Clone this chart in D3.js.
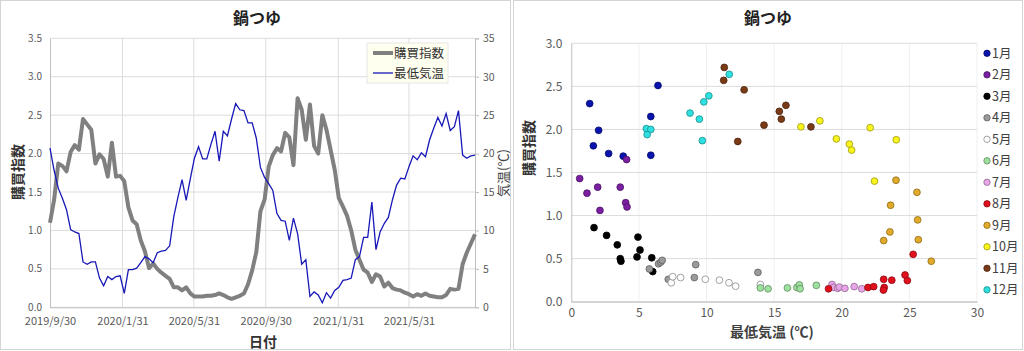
<!DOCTYPE html>
<html>
<head>
<meta charset="utf-8">
<script src="https://cdn.jsdelivr.net/npm/d3@7"></script>
<style>
  body { margin: 0; background: #fff; }
  svg text { font-family: "Noto Sans CJK JP", "Noto Sans", sans-serif; }
  .tick text { fill: #595959; font-size: 11px; }
  .axis .domain { stroke: #bfbfbf; }
  .axis .tick line { stroke: #bfbfbf; }
</style>
</head>
<body>
<svg id="chart"></svg>
<script>
// weekly series, first week starts 2019/9/30
const firstWeek = "2019-09-30";
const purchaseIndex = [
  1.10, 1.40, 1.87, 1.84, 1.77, 2.02, 2.11, 2.05, 2.45, 2.38,
  2.31, 1.87, 1.99, 1.93, 1.70, 2.14, 1.70, 1.71, 1.64, 1.30,
  1.13, 1.08, 0.87, 0.73, 0.51, 0.57, 0.50, 0.45, 0.41, 0.37,
  0.26, 0.26, 0.22, 0.26, 0.18, 0.14, 0.14, 0.14, 0.15, 0.15,
  0.16, 0.18, 0.16, 0.13, 0.11, 0.13, 0.15, 0.18, 0.30, 0.48,
  0.72, 1.25, 1.40, 1.83, 1.98, 2.07, 2.03, 2.27, 2.21, 1.85,
  2.72, 2.57, 2.18, 2.64, 2.10, 2.00, 2.50, 2.31, 2.05, 1.79,
  1.42, 1.31, 1.19, 1.00, 0.75, 0.62, 0.49, 0.45, 0.33, 0.43,
  0.40, 0.27, 0.32, 0.25, 0.23, 0.22, 0.19, 0.17, 0.14, 0.17,
  0.15, 0.18, 0.15, 0.14, 0.13, 0.13, 0.16, 0.24, 0.23, 0.24,
  0.56, 0.71, 0.83, 0.95
];
const minTemp = [
  20.7, 17.8, 15.5, 14.2, 12.7, 10.1, 9.8, 9.6, 5.9, 5.6,
  5.9, 5.9, 3.8, 2.8, 4.0, 3.6, 4.0, 4.1, 1.8, 4.9,
  4.9, 5.1, 5.8, 6.6, 6.3, 5.8, 7.1, 7.3, 7.4, 8.0,
  11.8, 14.3, 16.6, 13.9, 16.7, 19.4, 20.9, 19.3, 19.3, 21.2,
  22.9, 19.0, 22.9, 22.3, 24.5, 26.5, 25.7, 25.6, 24.0, 24.0,
  22.0, 18.2, 16.9, 16.1, 15.2, 12.2, 11.3, 11.2, 8.7, 11.6,
  9.6, 5.6, 6.2, 1.4, 2.0, 1.6, 0.6, 1.9, 1.2, 2.2,
  2.6, 3.5, 3.6, 3.8, 6.2, 6.6, 9.1, 9.1, 13.7, 7.5,
  9.8, 10.9, 11.7, 14.0, 15.9, 16.8, 16.7, 18.3, 19.7, 19.2,
  20.1, 19.6, 21.8, 23.3, 24.7, 23.6, 25.2, 23.0, 23.5, 25.6,
  19.8, 19.4, 19.7, 19.8
];
const dateTicks = ["2019-09-30", "2020-01-31", "2020-05-31", "2020-09-30", "2021-01-31", "2021-05-31"];
const indexTicks = [0, 0.5, 1, 1.5, 2, 2.5, 3, 3.5];
const tempTicks = [0, 5, 10, 15, 20, 25, 30, 35];

// scatter: [min temperature, purchase index] per month
const monthNames = ["1月", "2月", "3月", "4月", "5月", "6月", "7月", "8月", "9月", "10月", "11月", "12月"];
const jan = [[1.36, 2.30], [2.02, 1.99], [1.63, 1.81], [2.76, 1.72], [3.84, 1.69], [5.88, 1.70], [5.88, 2.15], [6.41, 2.51]];
const feb = [[4.09, 1.65], [0.62, 1.43], [1.16, 1.26], [1.95, 1.33], [3.62, 1.33], [4.02, 1.15], [4.12, 1.10], [2.12, 1.06]];
const mar = [[1.68, 0.86], [2.61, 0.77], [3.40, 0.66], [4.93, 0.75], [5.08, 0.60], [3.62, 0.50], [3.67, 0.47], [4.86, 0.52], [5.95, 0.51], [6.02, 0.35]];
const apr = [[5.77, 0.38], [6.45, 0.44], [6.62, 0.46], [6.72, 0.48], [9.20, 0.43], [9.10, 0.28], [7.17, 0.26], [13.80, 0.34]];
const may = [[7.39, 0.22], [7.50, 0.29], [8.08, 0.28], [9.91, 0.26], [10.95, 0.25], [11.66, 0.22], [12.15, 0.18], [13.98, 0.20]];
const jun = [[13.98, 0.16], [14.55, 0.15], [15.98, 0.16], [16.68, 0.165], [16.86, 0.195], [16.92, 0.15], [18.12, 0.19]];
const jul = [[19.28, 0.20], [19.39, 0.165], [19.70, 0.155], [19.82, 0.17], [20.23, 0.155], [20.92, 0.175], [21.48, 0.15]];
const aug = [[19.02, 0.15], [21.94, 0.165], [22.36, 0.175], [23.10, 0.26], [23.14, 0.165], [23.08, 0.135], [23.70, 0.25], [24.68, 0.31], [24.85, 0.245], [25.28, 0.55]];
const sep = [[24.01, 1.41], [25.56, 1.27], [23.61, 1.12], [25.61, 0.95], [23.56, 0.81], [23.10, 0.71], [25.66, 0.72], [26.62, 0.47]];
const oct = [[16.98, 2.03], [18.38, 2.10], [19.60, 1.89], [20.56, 1.83], [20.73, 1.76], [22.10, 2.02], [24.03, 1.88], [22.42, 1.40]];
const nov = [[11.31, 2.72], [11.27, 2.57], [12.78, 2.46], [15.38, 2.21], [15.53, 2.12], [15.87, 2.28], [14.25, 2.05], [17.72, 2.03], [12.31, 1.86]];
const dec = [[11.68, 2.64], [10.17, 2.39], [9.80, 2.32], [8.78, 2.19], [9.47, 2.12], [9.69, 1.87], [5.55, 2.01], [5.88, 2.00], [5.61, 1.94]];
const monthPoints = [jan, feb, mar, apr, may, jun, jul, aug, sep, oct, nov, dec];
const scatterXTicks = [0, 5, 10, 15, 20, 25, 30];
const scatterYTicks = [0, 0.5, 1, 1.5, 2, 2.5, 3];

const parseDate = d3.timeParse("%Y-%m-%d");

class TrendChart {
  constructor(_config) {
    this.config = {
      parentElement: _config.parentElement,
      left: 50, right: 475, top: 38.3, bottom: 307.3,
      indexColor: "#808080",
      tempColor: "#1818b8",
    };
    this.initVis();
  }

  initVis() {
    let vis = this;
    const c = vis.config;
    vis.g = d3.select(c.parentElement).append("g");

    const start = parseDate(firstWeek);
    vis.data = purchaseIndex.map((v, i) => ({
      date: d3.timeDay.offset(start, 7 * i),
      index: v,
      temp: minTemp[i],
    }));

    vis.xScale = d3.scaleTime()
      .domain(d3.extent(vis.data, (d) => d.date))
      .range([c.left, c.right]);
    vis.yIndex = d3.scaleLinear().domain([0, 3.5]).range([c.bottom, c.top]);
    vis.yTemp = d3.scaleLinear().domain([0, 35]).range([c.bottom, c.top]);

    // grid
    vis.g.append("g").selectAll("line").data(indexTicks).join("line")
      .attr("x1", c.left).attr("x2", c.right)
      .attr("y1", (d) => vis.yIndex(d)).attr("y2", (d) => vis.yIndex(d))
      .attr("stroke", "#dcdcdc");
    vis.g.append("g").selectAll("line").data(dateTicks.slice(1)).join("line")
      .attr("x1", (d) => vis.xScale(parseDate(d))).attr("x2", (d) => vis.xScale(parseDate(d)))
      .attr("y1", c.top).attr("y2", c.bottom)
      .attr("stroke", "#dcdcdc");

    vis.renderVis();
  }

  renderVis() {
    let vis = this;
    const c = vis.config;

    const xAxis = d3.axisBottom(vis.xScale)
      .tickValues(dateTicks.map(parseDate))
      .tickFormat(d3.timeFormat("%Y/%-m/%-d"))
      .tickSize(0).tickPadding(10);
    vis.g.append("g").attr("class", "axis")
      .attr("transform", `translate(0,${c.bottom})`).call(xAxis);

    const yAxis = d3.axisLeft(vis.yIndex).tickValues(indexTicks)
      .tickFormat(d3.format(".1f")).tickSize(0).tickPadding(8);
    vis.g.append("g").attr("class", "axis")
      .attr("transform", `translate(${c.left},0)`).call(yAxis)
      .selectAll("text").style("font-size", "10px").attr("dy", "0.3em");

    const yAxisR = d3.axisRight(vis.yTemp).tickValues(tempTicks)
      .tickSize(4).tickPadding(4);
    vis.g.append("g").attr("class", "axis")
      .attr("transform", `translate(${c.right},0)`).call(yAxisR)
      .selectAll("text").style("font-size", "10.5px");

    vis.g.selectAll(".axis .domain").attr("stroke", "#bfbfbf");

    const indexLine = d3.line().x((d) => vis.xScale(d.date)).y((d) => vis.yIndex(d.index));
    const tempLine = d3.line().x((d) => vis.xScale(d.date)).y((d) => vis.yTemp(d.temp));

    vis.g.append("path").datum(vis.data)
      .attr("d", indexLine).attr("fill", "none")
      .attr("stroke", c.indexColor).attr("stroke-width", 4)
      .attr("stroke-linejoin", "round");
    vis.g.append("path").datum(vis.data)
      .attr("d", tempLine).attr("fill", "none")
      .attr("stroke", c.tempColor).attr("stroke-width", 1.3);

    // titles
    vis.g.append("text").attr("x", 257).attr("y", 24)
      .attr("text-anchor", "middle").attr("font-size", 16).attr("font-weight", "bold")
      .attr("fill", "#222").text("鍋つゆ");
    vis.g.append("text").attr("x", 263).attr("y", 346.5)
      .attr("text-anchor", "middle").attr("font-size", 14).attr("font-weight", "bold")
      .attr("fill", "#333").text("日付");
    vis.g.append("text").attr("transform", "translate(23,172) rotate(-90)")
      .attr("text-anchor", "middle").attr("font-size", 14).attr("font-weight", "bold")
      .attr("fill", "#333").text("購買指数");
    vis.g.append("text").attr("transform", "translate(508,173) rotate(-90)")
      .attr("text-anchor", "middle").attr("font-size", 13)
      .attr("fill", "#444").text("気温(℃)");

    // legend
    const lg = vis.g.append("g").attr("transform", "translate(367,43)");
    lg.append("rect").attr("width", 81).attr("height", 40)
      .attr("fill", "#fffff0").attr("stroke", "#e6e6e6");
    const items = [
      { label: "購買指数", color: c.indexColor, width: 4 },
      { label: "最低気温", color: c.tempColor, width: 1.3 },
    ];
    items.forEach((d, i) => {
      lg.append("line").attr("x1", 6).attr("x2", 26)
        .attr("y1", 10 + i * 20).attr("y2", 10 + i * 20)
        .attr("stroke", d.color).attr("stroke-width", d.width);
      lg.append("text").attr("x", 27).attr("y", 14.5 + i * 20)
        .attr("font-size", 12.5).attr("fill", "#333").text(d.label);
    });
  }
}

class ScatterChart {
  constructor(_config) {
    this.config = {
      parentElement: _config.parentElement,
      left: 571.3, right: 977, top: 43.3, bottom: 301.7,
      colors: ["#0a14ac", "#7a1fa2", "#000000", "#9a9a9a", "#ffffff", "#9ee09e",
               "#e8a6e8", "#e0101c", "#e2aa2a", "#f8f41c", "#7a3a16", "#2ee0e0"],
    };
    this.initVis();
  }

  initVis() {
    let vis = this;
    const c = vis.config;
    vis.g = d3.select(c.parentElement).append("g");

    vis.xScale = d3.scaleLinear().domain([0, 30]).range([c.left, c.right]);
    vis.yScale = d3.scaleLinear().domain([0, 3]).range([c.bottom, c.top]);

    vis.g.append("g").selectAll("line").data(scatterXTicks.slice(1)).join("line")
      .attr("x1", (d) => vis.xScale(d)).attr("x2", (d) => vis.xScale(d))
      .attr("y1", c.top).attr("y2", c.bottom).attr("stroke", "#efefef");
    vis.g.append("g").selectAll("line").data(scatterYTicks).join("line")
      .attr("x1", c.left).attr("x2", c.right)
      .attr("y1", (d) => vis.yScale(d)).attr("y2", (d) => vis.yScale(d))
      .attr("stroke", "#dcdcdc");

    vis.renderVis();
  }

  renderVis() {
    let vis = this;
    const c = vis.config;

    const xAxis = d3.axisBottom(vis.xScale).tickValues(scatterXTicks).tickSize(0).tickPadding(7);
    vis.g.append("g").attr("class", "axis")
      .attr("transform", `translate(0,${c.bottom})`).call(xAxis)
      .selectAll("text").style("font-size", "12px");
    const yAxis = d3.axisLeft(vis.yScale).tickValues(scatterYTicks)
      .tickFormat(d3.format(".1f")).tickSize(0).tickPadding(9);
    vis.g.append("g").attr("class", "axis")
      .attr("transform", `translate(${c.left},0)`).call(yAxis)
      .selectAll("text").style("font-size", "12px");
    vis.g.selectAll(".axis .domain").attr("stroke", "#d9d9d9");

    const flat = monthPoints.flatMap((pts, m) => pts.map((p) => ({ m, t: p[0], v: p[1] })));
    const stroke = (m) => m === 4 ? "#8a8a8a" : d3.color(c.colors[m]).darker(1.3);

    vis.g.append("g").selectAll("circle").data(flat).join("circle")
      .attr("cx", (d) => vis.xScale(d.t))
      .attr("cy", (d) => vis.yScale(d.v))
      .attr("r", 3.4)
      .attr("fill", (d) => c.colors[d.m])
      .attr("stroke", (d) => stroke(d.m))
      .attr("stroke-width", 0.8);

    // legend
    const lg = vis.g.append("g").selectAll("g").data(monthNames).join("g")
      .attr("transform", (d, i) => `translate(987,${53.3 + i * 21.5})`);
    lg.append("circle").attr("r", 3.2)
      .attr("fill", (d, i) => c.colors[i])
      .attr("stroke", (d, i) => stroke(i)).attr("stroke-width", 0.8);
    lg.append("text").attr("x", 5).attr("y", 4.5)
      .attr("font-size", 12.5).attr("fill", "#404040").text((d) => d);

    vis.g.append("text").attr("x", 768).attr("y", 24)
      .attr("text-anchor", "middle").attr("font-size", 16).attr("font-weight", "bold")
      .attr("fill", "#222").text("鍋つゆ");
    vis.g.append("text").attr("x", 772).attr("y", 337)
      .attr("text-anchor", "middle").attr("font-size", 14).attr("font-weight", "bold")
      .attr("fill", "#404040").text("最低気温 (℃)");
    vis.g.append("text").attr("transform", "translate(534,148) rotate(-90)")
      .attr("text-anchor", "middle").attr("font-size", 14).attr("font-weight", "bold")
      .attr("fill", "#333").text("購買指数");
  }
}

const svg = d3.select("#chart").attr("width", 1024).attr("height", 351);
svg.append("rect").attr("x", 0.5).attr("y", 0.5).attr("width", 510).attr("height", 349)
  .attr("fill", "#fff").attr("stroke", "#d4d4d4");
svg.append("rect").attr("x", 513.5).attr("y", 0.5).attr("width", 509).attr("height", 349)
  .attr("fill", "#fff").attr("stroke", "#d4d4d4");

new TrendChart({ parentElement: "#chart" });
new ScatterChart({ parentElement: "#chart" });
</script>
</body>
</html>
